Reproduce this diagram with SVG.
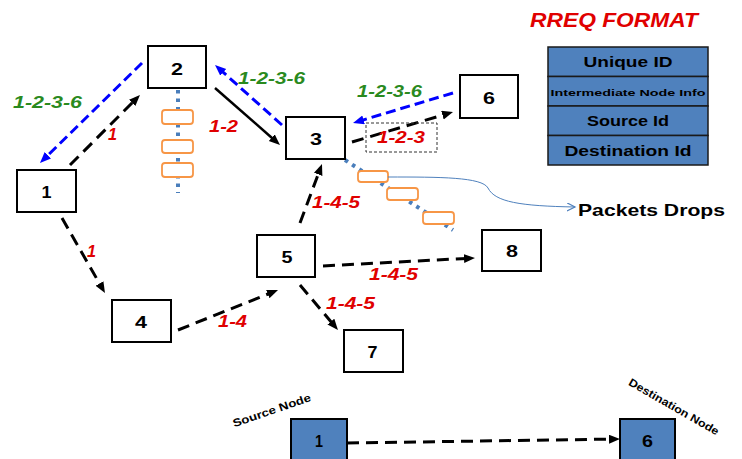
<svg xmlns="http://www.w3.org/2000/svg" width="742" height="459" viewBox="0 0 742 459">
<style>
.node rect{fill:#fff;stroke:#000;stroke-width:2}
.bnode rect{fill:#4F81BD;stroke:#000;stroke-width:2}
.num{font-family:"Liberation Sans",Arial,sans-serif;font-weight:bold;font-size:16.5px;fill:#000;text-anchor:middle}
.lbl{font-family:"Liberation Sans",Arial,sans-serif;font-weight:bold;font-style:italic;font-size:16px}
.red{fill:#E00000}
.green{fill:#2A8A1E}
.blk{fill:none;stroke:#000;stroke-width:3;stroke-dasharray:12,7}
.blu{fill:none;stroke:#0000FF;stroke-width:3;stroke-dasharray:10,5}
.q{fill:#fff;stroke:#F79646;stroke-width:1.8}
.dot{fill:none;stroke:#4A7EBB;stroke-width:4;stroke-dasharray:3.5,5}
.tbl rect{fill:#4F81BD;stroke:#1a1a1a;stroke-width:1.5}
.tt{font-family:"Liberation Sans",Arial,sans-serif;font-weight:bold;fill:#000;text-anchor:middle}
.side{font-family:"Liberation Sans",Arial,sans-serif;font-weight:bold;font-size:11px;fill:#000;text-anchor:middle}
</style>
<defs>
<marker id="ak" markerUnits="userSpaceOnUse" markerWidth="12" markerHeight="10" refX="3" refY="4.5" orient="auto"><path d="M0,0 L11,4.5 L0,9 z" fill="#000"/></marker>
<marker id="ab" markerUnits="userSpaceOnUse" markerWidth="12" markerHeight="10" refX="3" refY="4.5" orient="auto"><path d="M0,0 L11,4.5 L0,9 z" fill="#0000FF"/></marker>
<marker id="ao" markerUnits="userSpaceOnUse" markerWidth="10" markerHeight="10" refX="8" refY="4" orient="auto"><path d="M0,0 L8,4 L0,8" fill="none" stroke="#4F81BD" stroke-width="1.2"/></marker>
</defs>

<text x="614" y="27" class="lbl" style="font-size:20px" fill="#E00000" text-anchor="middle" textLength="168" lengthAdjust="spacingAndGlyphs">RREQ FORMAT</text>

<g id="rreq-table" class="tbl">
<rect x="548" y="47" width="160" height="29.5"/>
<rect x="548" y="76.5" width="160" height="29.5"/>
<rect x="548" y="106" width="160" height="29.5"/>
<rect x="548" y="135.5" width="160" height="29.5"/>
<text x="628" y="67" class="tt" font-size="14.5" textLength="89" lengthAdjust="spacingAndGlyphs">Unique ID</text>
<text x="628" y="96" class="tt" font-size="9.5" textLength="155" lengthAdjust="spacingAndGlyphs">Intermediate Node Info</text>
<text x="628" y="126" class="tt" font-size="15.5" textLength="82" lengthAdjust="spacingAndGlyphs">Source Id</text>
<text x="628" y="156" class="tt" font-size="15.5" textLength="127" lengthAdjust="spacingAndGlyphs">Destination Id</text>
</g>

<g id="queues">
<line x1="178" y1="90" x2="178" y2="193" class="dot"/>
<rect x="162" y="110" width="31" height="14" rx="3" class="q"/>
<rect x="162" y="140" width="31" height="13" rx="3" class="q"/>
<rect x="162" y="163" width="31" height="14" rx="3" class="q"/>
<line x1="345" y1="160" x2="453" y2="230" class="dot"/>
<rect x="358" y="171" width="30" height="11" rx="3" class="q"/>
<rect x="387" y="188" width="31" height="12" rx="3" class="q"/>
<rect x="423" y="212" width="31" height="12" rx="3" class="q"/>
</g>

<g id="connectors">
<line x1="70" y1="165" x2="134.3" y2="100.7" class="blk" marker-end="url(#ak)"/>
<line x1="142" y1="63" x2="45.7" y2="157.4" class="blu" marker-end="url(#ab)"/>
<line x1="215" y1="88" x2="274" y2="139.7" fill="none" stroke="#000" stroke-width="2.5" marker-end="url(#ak)"/>
<line x1="282" y1="125" x2="221" y2="70.3" class="blu" marker-end="url(#ab)"/>
<line x1="453" y1="93" x2="360.7" y2="120.7" class="blu" marker-end="url(#ab)"/>
<line x1="352" y1="142" x2="445.3" y2="114.3" class="blk" marker-end="url(#ak)"/>
<line x1="300" y1="223" x2="319.2" y2="171.5" class="blk" marker-end="url(#ak)"/>
<line x1="62" y1="218" x2="101" y2="286.1" class="blk" marker-end="url(#ak)"/>
<line x1="178" y1="330" x2="270.6" y2="293" class="blk" marker-end="url(#ak)"/>
<line x1="323" y1="266" x2="467" y2="258.4" class="blk" marker-end="url(#ak)"/>
<line x1="300" y1="285" x2="332.8" y2="323.9" class="blk" marker-end="url(#ak)"/>
<line x1="347" y1="443" x2="612" y2="439.1" class="blk" marker-end="url(#ak)"/>
<path d="M388,177 C440,177 482,177 488,188 C495,202 520,206 575,207" fill="none" stroke="#4F81BD" stroke-width="1" marker-end="url(#ao)"/>
<rect x="366" y="123" width="71" height="29" fill="none" stroke="#333" stroke-width="1" stroke-dasharray="3,2"/>
</g>

<g id="labels">
<text x="13" y="108" class="lbl green" textLength="69" lengthAdjust="spacingAndGlyphs">1-2-3-6</text>
<text x="108" y="140" class="lbl red" textLength="9" lengthAdjust="spacingAndGlyphs">1</text>
<text x="209" y="132" class="lbl red" textLength="29" lengthAdjust="spacingAndGlyphs">1-2</text>
<text x="238" y="84" class="lbl green" textLength="67" lengthAdjust="spacingAndGlyphs">1-2-3-6</text>
<text x="357" y="97" class="lbl green" textLength="65" lengthAdjust="spacingAndGlyphs">1-2-3-6</text>
<text x="377" y="143" class="lbl red" textLength="48" lengthAdjust="spacingAndGlyphs">1-2-3</text>
<text x="312" y="208" class="lbl red" textLength="48" lengthAdjust="spacingAndGlyphs">1-4-5</text>
<text x="369" y="280" class="lbl red" textLength="49" lengthAdjust="spacingAndGlyphs">1-4-5</text>
<text x="326" y="309" class="lbl red" textLength="49" lengthAdjust="spacingAndGlyphs">1-4-5</text>
<text x="218" y="327" class="lbl red" textLength="29" lengthAdjust="spacingAndGlyphs">1-4</text>
<text x="87" y="257" class="lbl red" textLength="9" lengthAdjust="spacingAndGlyphs">1</text>
<text x="578" y="216" font-family="Liberation Sans, Arial, sans-serif" font-weight="bold" font-size="16.5" fill="#000" textLength="147" lengthAdjust="spacingAndGlyphs">Packets Drops</text>
</g>

<g id="node1" class="node"><rect x="17" y="170" width="59" height="42"/><text x="46.5" y="198" class="num" textLength="10" lengthAdjust="spacingAndGlyphs">1</text></g>
<g id="node2" class="node"><rect x="148" y="46" width="58" height="42"/><text x="177" y="75" class="num" textLength="12" lengthAdjust="spacingAndGlyphs">2</text></g>
<g id="node3" class="node"><rect x="286" y="117" width="59" height="42"/><text x="316" y="145" class="num" textLength="12" lengthAdjust="spacingAndGlyphs">3</text></g>
<g id="node6" class="node"><rect x="460" y="75" width="58" height="43"/><text x="489" y="104" class="num" textLength="12" lengthAdjust="spacingAndGlyphs">6</text></g>
<g id="node5" class="node"><rect x="257" y="235" width="58" height="42"/><text x="287" y="263" class="num" textLength="11" lengthAdjust="spacingAndGlyphs">5</text></g>
<g id="node4" class="node"><rect x="112" y="300" width="59" height="42"/><text x="141" y="328" class="num" textLength="12" lengthAdjust="spacingAndGlyphs">4</text></g>
<g id="node7" class="node"><rect x="344" y="330" width="59" height="42"/><text x="372.5" y="358" class="num" textLength="10" lengthAdjust="spacingAndGlyphs">7</text></g>
<g id="node8" class="node"><rect x="482" y="230" width="59" height="41"/><text x="512" y="257" class="num" textLength="12" lengthAdjust="spacingAndGlyphs">8</text></g>

<g id="src-node" class="bnode"><rect x="291" y="419" width="56" height="45"/><text x="319" y="447" class="num" textLength="8" lengthAdjust="spacingAndGlyphs">1</text></g>
<g id="dst-node" class="bnode"><rect x="620" y="419" width="55" height="45"/><text x="647.5" y="447" class="num" textLength="11" lengthAdjust="spacingAndGlyphs">6</text></g>

<text class="side" transform="translate(273,414) rotate(-19)" textLength="82" lengthAdjust="spacingAndGlyphs">Source Node</text>
<text class="side" transform="translate(672,410) rotate(30)" textLength="102" lengthAdjust="spacingAndGlyphs">Destination Node</text>
</svg>
